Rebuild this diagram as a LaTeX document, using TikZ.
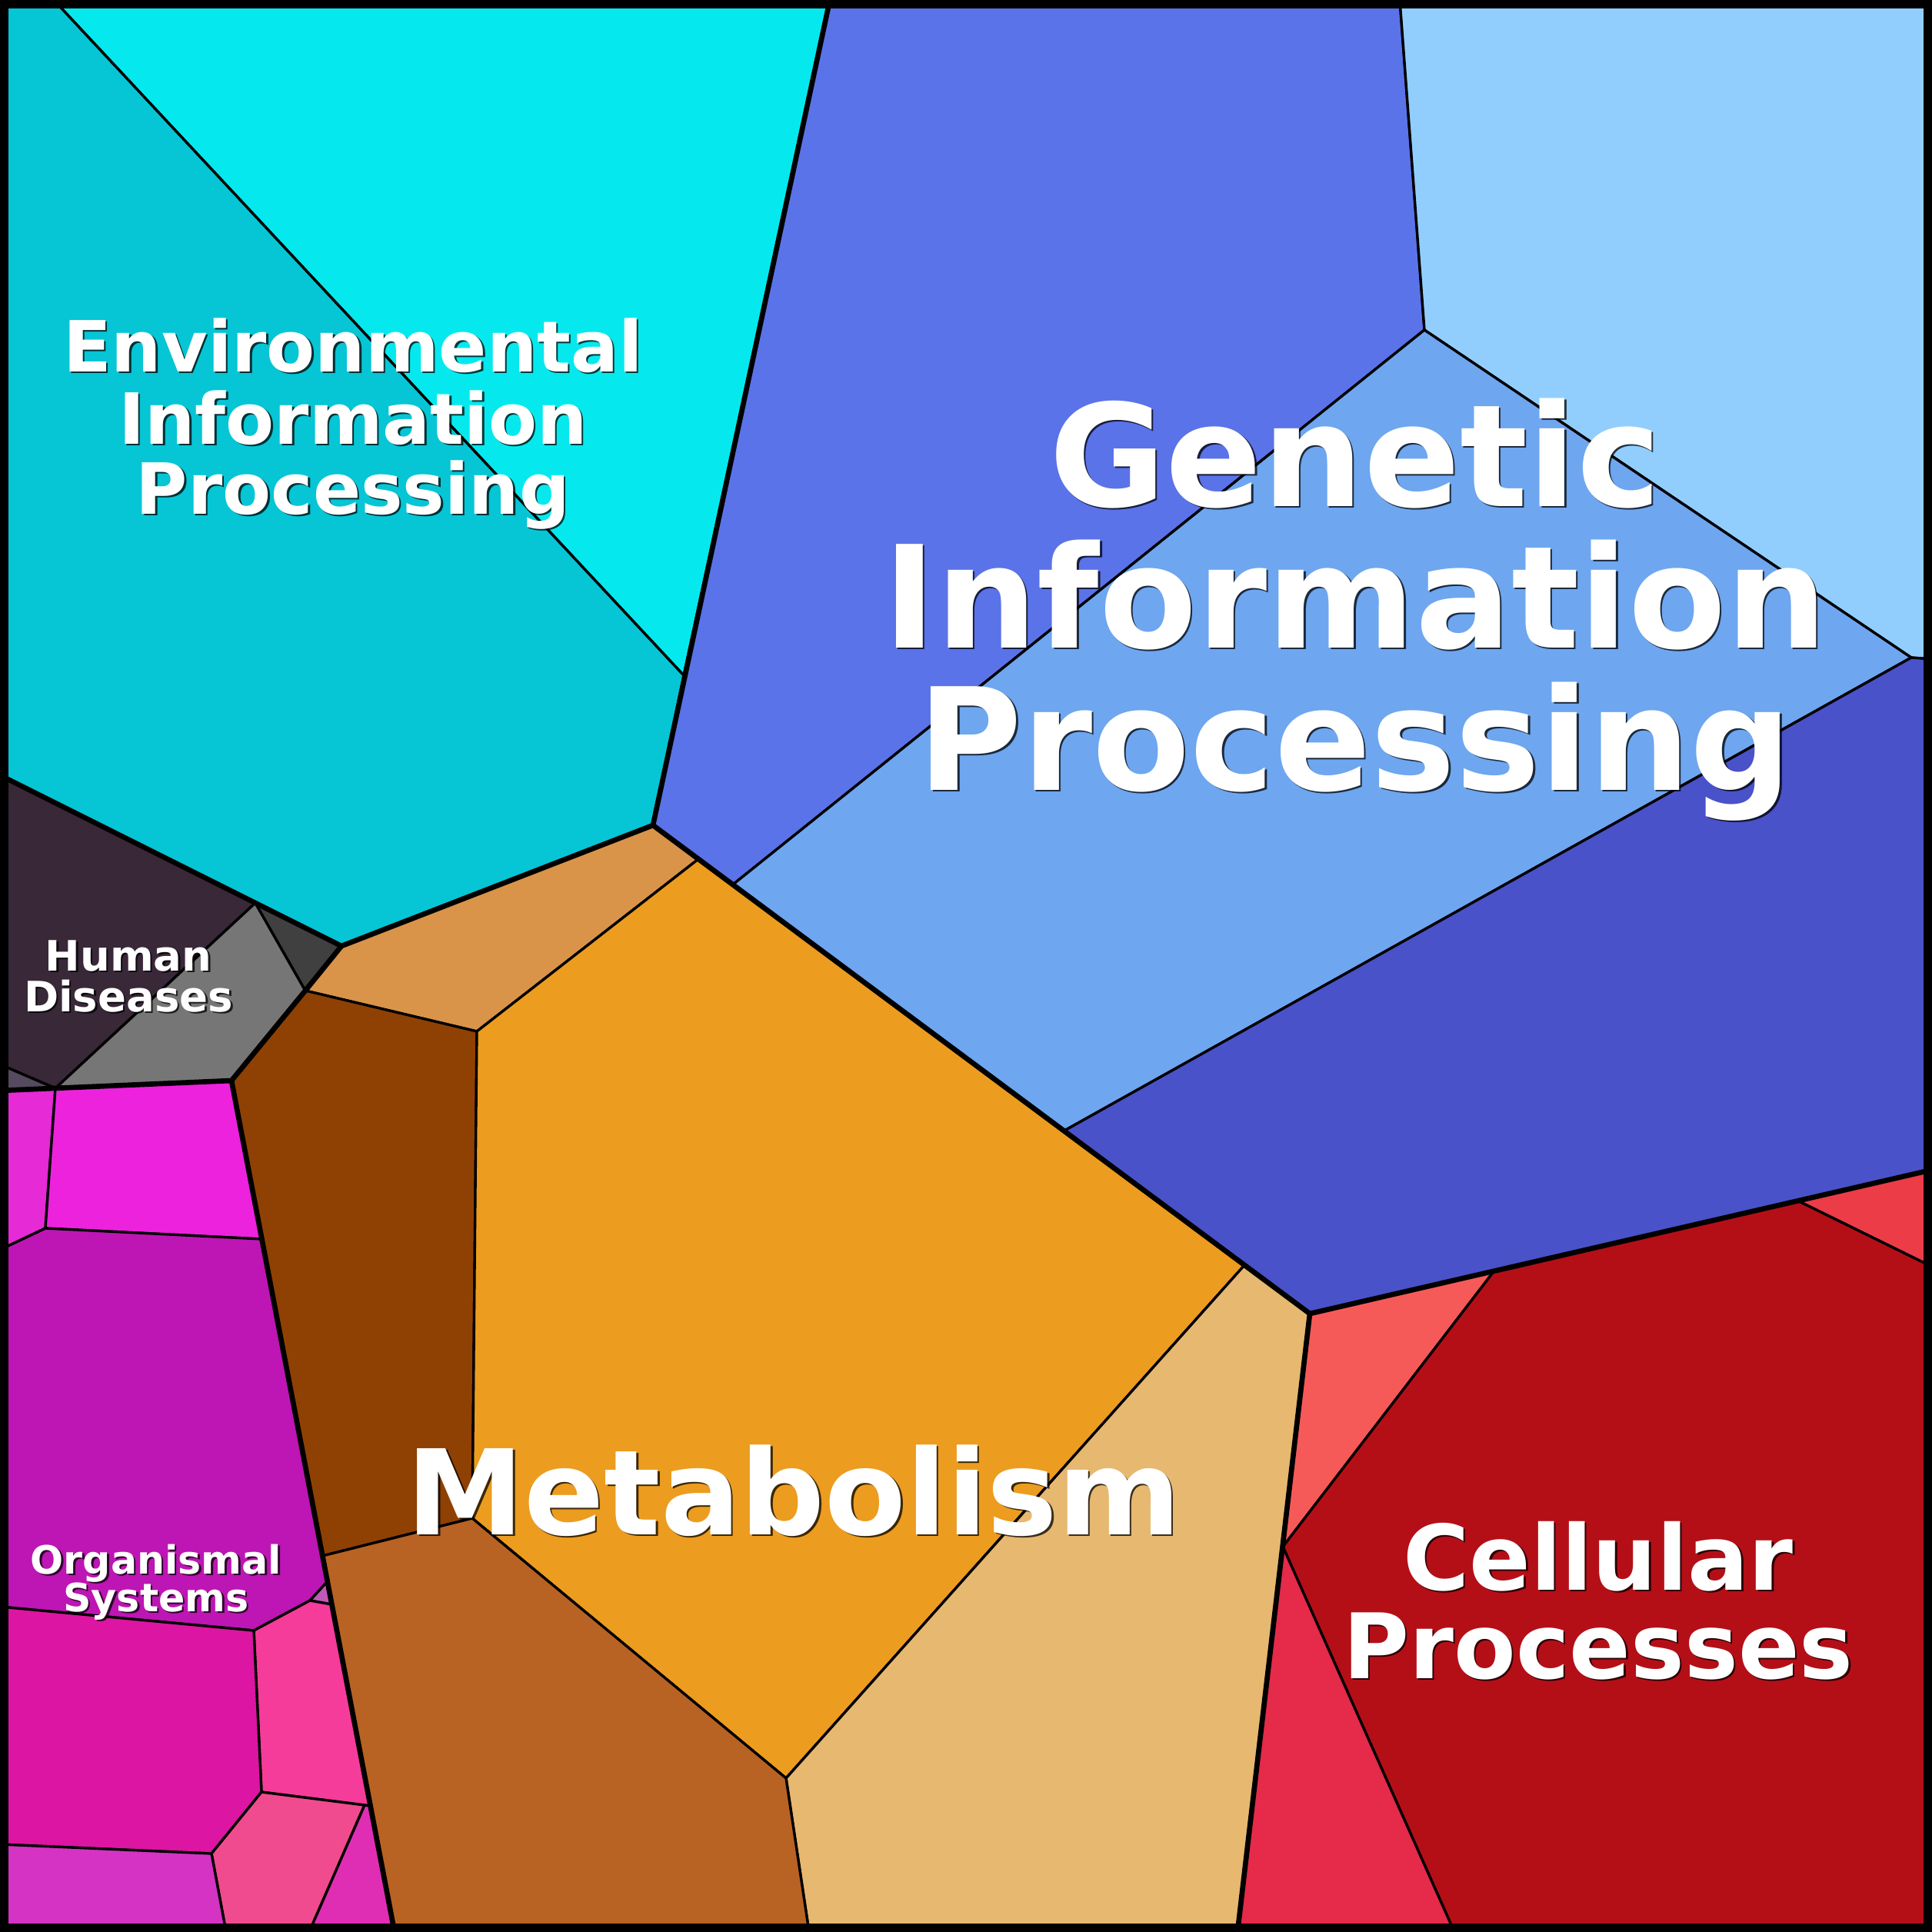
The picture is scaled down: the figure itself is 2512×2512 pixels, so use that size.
\documentclass[tikz,border=0pt]{standalone}
\usepackage{fontspec}
\setsansfont{DejaVu Sans}
\definecolor{cEnvA}{HTML}{06C5D5}
\definecolor{cEnvB}{HTML}{05E9EE}
\definecolor{cGenA}{HTML}{5A73E8}
\definecolor{cGenB}{HTML}{92CEFD}
\definecolor{cGenC}{HTML}{6EA6F0}
\definecolor{cGenD}{HTML}{4952C8}
\definecolor{cHumA}{HTML}{382838}
\definecolor{cHumB}{HTML}{767676}
\definecolor{cHumC}{HTML}{404040}
\definecolor{cHumD}{HTML}{564A5E}
\definecolor{cMetA}{HTML}{D9944A}
\definecolor{cMetB}{HTML}{8F4104}
\definecolor{cMetC}{HTML}{EC9C1F}
\definecolor{cMetD}{HTML}{E6B870}
\definecolor{cMetE}{HTML}{B86323}
\definecolor{cCelA}{HTML}{F65A58}
\definecolor{cCelB}{HTML}{EB3C47}
\definecolor{cCelC}{HTML}{B40F17}
\definecolor{cCelD}{HTML}{E52A4A}
\definecolor{cOrgA}{HTML}{E52AD6}
\definecolor{cOrgB}{HTML}{ED22DD}
\definecolor{cOrgC}{HTML}{BD16B4}
\definecolor{cOrgD}{HTML}{C05AB8}
\definecolor{cOrgE}{HTML}{F53C9A}
\definecolor{cOrgF}{HTML}{DC15A2}
\definecolor{cOrgG}{HTML}{F04B8E}
\definecolor{cOrgH}{HTML}{D433C4}
\definecolor{cOrgI}{HTML}{E02EB4}
\tikzset{
  cell/.style={draw=black, line width=0.95pt, line join=round},
  grp/.style={draw=black, line width=1.9pt, line join=round, line cap=round},
  lbl/.style={text=white, inner sep=0pt, anchor=base},
  shd/.style={text=black, text opacity=0.75, inner sep=0pt, anchor=base},
  fEnv/.style={font=\sffamily\bfseries\fontsize{26.1pt}{26.1pt}\selectfont},
  fGen/.style={font=\sffamily\bfseries\fontsize{52.6pt}{52.6pt}\selectfont},
  fHum/.style={font=\sffamily\bfseries\fontsize{15.5pt}{15.5pt}\selectfont},
  fOrg/.style={font=\sffamily\bfseries\fontsize{14.4pt}{14.4pt}\selectfont},
  fMet/.style={font=\sffamily\bfseries\fontsize{43.7pt}{43.7pt}\selectfont},
  fCel/.style={font=\sffamily\bfseries\fontsize{33.4pt}{33.4pt}\selectfont},
}
\begin{document}
\begin{tikzpicture}[x=0.01cm,y=-0.01cm]
\useasboundingbox (0,0) rectangle (2512,2512);
% ---- vertices
\coordinate (TL) at (0,0);
\coordinate (TR) at (2512,0);
\coordinate (BR) at (2512,2512);
\coordinate (BL) at (0,2512);
\coordinate (e1) at (70,0);
\coordinate (e2) at (1079,0);
\coordinate (e3) at (889,878);
\coordinate (e4) at (849,1073);
\coordinate (e5) at (444,1230);
\coordinate (e6) at (0,1008);
\coordinate (g1) at (1820,0);
\coordinate (g2) at (1852,429);
\coordinate (g3) at (2485,855);
\coordinate (g4) at (2512,857);
\coordinate (g5) at (953,1150);
\coordinate (g6) at (1384,1470);
\coordinate (g7) at (1703,1708);
\coordinate (g8) at (2512,1521);
\coordinate (m1) at (908,1117);
\coordinate (m2) at (620,1341);
\coordinate (m3) at (397,1288);
\coordinate (m4) at (301,1405);
\coordinate (m5) at (614,1974);
\coordinate (m6) at (419,2023);
\coordinate (m7) at (513,2512);
\coordinate (m8) at (1022,2312);
\coordinate (m9) at (1618,1645);
\coordinate (m10) at (1052,2512);
\coordinate (m11) at (1609,2512);
\coordinate (c1) at (1943,1652);
\coordinate (c2) at (2337,1561);
\coordinate (c3) at (2512,1647);
\coordinate (c4) at (1668,2011);
\coordinate (c5) at (1891,2512);
\coordinate (h1) at (332,1174);
\coordinate (h3) at (72,1415);
\coordinate (h4) at (0,1384);
\coordinate (h5) at (0,1418);
\coordinate (o2) at (59,1597);
\coordinate (o3) at (0,1625);
\coordinate (o4) at (340,1611);
\coordinate (o5) at (0,2089);
\coordinate (o6) at (330,2120);
\coordinate (o7) at (403,2081);
\coordinate (p1) at (425,2057);
\coordinate (p2) at (431,2086);
\coordinate (o8) at (340,2330);
\coordinate (o9) at (474,2347);
\coordinate (p3) at (481,2348);
\coordinate (o10) at (402,2512);
\coordinate (o11) at (275,2410);
\coordinate (o12) at (0,2398);
\coordinate (o13) at (294,2512);
% ---- Environmental Information Processing
\filldraw[cell, fill=cEnvA] (TL) -- (e1) -- (e3) -- (e4) -- (e5) -- (e6) -- cycle;
\filldraw[cell, fill=cEnvB] (e1) -- (e2) -- (e3) -- cycle;
% ---- Genetic Information Processing
\filldraw[cell, fill=cGenA] (e2) -- (g1) -- (g2) -- (g5) -- (e4) -- cycle;
\filldraw[cell, fill=cGenB] (g1) -- (TR) -- (g4) -- (g3) -- (g2) -- cycle;
\filldraw[cell, fill=cGenC] (g5) -- (g2) -- (g3) -- (g6) -- cycle;
\filldraw[cell, fill=cGenD] (g6) -- (g3) -- (g4) -- (g8) -- (g7) -- cycle;
% ---- Human Diseases
\filldraw[cell, fill=cHumA] (e6) -- (h1) -- (h3) -- (h4) -- cycle;
\filldraw[cell, fill=cHumB] (h1) -- (m3) -- (m4) -- (h3) -- cycle;
\filldraw[cell, fill=cHumC] (h1) -- (e5) -- (m3) -- cycle;
\filldraw[cell, fill=cHumD] (h4) -- (h3) -- (h5) -- cycle;
% ---- Metabolism
\filldraw[cell, fill=cMetA] (e5) -- (e4) -- (m1) -- (m2) -- (m3) -- cycle;
\filldraw[cell, fill=cMetB] (m3) -- (m2) -- (m5) -- (m6) -- (m4) -- cycle;
\filldraw[cell, fill=cMetC] (m1) -- (m9) -- (m8) -- (m5) -- (m2) -- cycle;
\filldraw[cell, fill=cMetD] (m9) -- (g7) -- (m11) -- (m10) -- (m8) -- cycle;
\filldraw[cell, fill=cMetE] (m6) -- (m5) -- (m8) -- (m10) -- (m7) -- cycle;
% ---- Cellular Processes
\filldraw[cell, fill=cCelA] (g7) -- (c1) -- (c4) -- cycle;
\filldraw[cell, fill=cCelB] (c2) -- (g8) -- (c3) -- cycle;
\filldraw[cell, fill=cCelC] (c1) -- (c2) -- (c3) -- (BR) -- (c5) -- (c4) -- cycle;
\filldraw[cell, fill=cCelD] (c4) -- (c5) -- (m11) -- cycle;
% ---- Organismal Systems
\filldraw[cell, fill=cOrgA] (h5) -- (h3) -- (o2) -- (o3) -- cycle;
\filldraw[cell, fill=cOrgB] (h3) -- (m4) -- (o4) -- (o2) -- cycle;
\filldraw[cell, fill=cOrgC] (o3) -- (o2) -- (o4) -- (p1) -- (o7) -- (o6) -- (o5) -- cycle;
\filldraw[cell, fill=cOrgD] (p1) -- (p2) -- (o7) -- cycle;
\filldraw[cell, fill=cOrgE] (o7) -- (p2) -- (p3) -- (o9) -- (o8) -- (o6) -- cycle;
\filldraw[cell, fill=cOrgF] (o5) -- (o6) -- (o8) -- (o11) -- (o12) -- cycle;
\filldraw[cell, fill=cOrgG] (o8) -- (o9) -- (o10) -- (o13) -- (o11) -- cycle;
\filldraw[cell, fill=cOrgH] (o12) -- (o11) -- (o13) -- (BL) -- cycle;
\filldraw[cell, fill=cOrgI] (o9) -- (p3) -- (m7) -- (o10) -- cycle;
% ---- group boundaries
\draw[grp] (e2) -- (e4) -- (g7) -- (g8);
\draw[grp] (e6) -- (e5) -- (e4);
\draw[grp] (e5) -- (m3) -- (m4) -- (h5);
\draw[grp] (m4) -- (m7);
\draw[grp] (g7) -- (m11);
% ---- frame
\draw[line width=6.4pt] (TL) rectangle (BR);
% ---- labels
\begin{scope}[shift={(2.5,2.5)}]
\node[shd, fEnv] (env1s) at (459,483) {Environmental};
\node[shd, fEnv] (env2s) at (459,577) {Information};
\node[shd, fEnv] (env3s) at (459,668) {Processing};
\node[shd, fGen] (gen1s) at (1762,658) {Genetic};
\node[shd, fGen] (gen2s) at (1762,842) {Information};
\node[shd, fGen] (gen3s) at (1762,1027) {Processing};
\node[shd, fHum] (hum1s) at (167,1262) {Human};
\node[shd, fHum] (hum2s) at (167,1315) {Diseases};
\node[shd, fOrg] (org1s) at (203,2046) {Organismal};
\node[shd, fOrg] (org2s) at (203,2095) {Systems};
\node[shd, fMet] (met1s) at (1032,1995) {Metabolism};
\node[shd, fCel] (cel1s) at (2078,2067) {Cellular};
\node[shd, fCel] (cel2s) at (2078,2182) {Processes};
\end{scope}
\node[lbl, fEnv] (env1) at (459,483) {Environmental};
\node[lbl, fEnv] (env2) at (459,577) {Information};
\node[lbl, fEnv] (env3) at (459,668) {Processing};
\node[lbl, fGen] (gen1) at (1762,658) {Genetic};
\node[lbl, fGen] (gen2) at (1762,842) {Information};
\node[lbl, fGen] (gen3) at (1762,1027) {Processing};
\node[lbl, fHum] (hum1) at (167,1262) {Human};
\node[lbl, fHum] (hum2) at (167,1315) {Diseases};
\node[lbl, fOrg] (org1) at (203,2046) {Organismal};
\node[lbl, fOrg] (org2) at (203,2095) {Systems};
\node[lbl, fMet] (met1) at (1032,1995) {Metabolism};
\node[lbl, fCel] (cel1) at (2078,2067) {Cellular};
\node[lbl, fCel] (cel2) at (2078,2182) {Processes};
\end{tikzpicture}
\end{document}
